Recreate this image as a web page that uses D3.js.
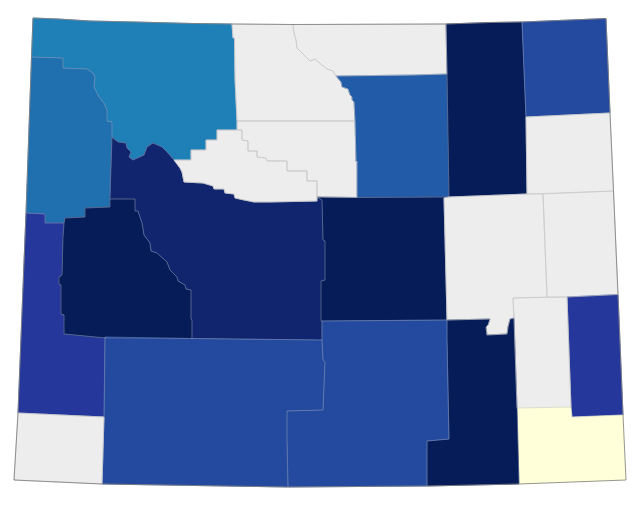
<!DOCTYPE html>
<html><head><meta charset="utf-8">
<script src="https://cdn.jsdelivr.net/npm/d3@7"></script>
<style>html,body{margin:0;padding:0;background:#fff}svg{display:block}</style>
</head><body><svg id="map" width="640" height="505"></svg>
<script>
// Estimated value band of every county (0 lowest, -1 = no data)
const counties = ["Park","Teton","Lincoln","Sublette","Fremont","Hot Springs","Washakie","Big Horn","Sheridan","Johnson","Campbell","Crook","Weston","Natrona","Converse","Niobrara","Goshen","Platte","Laramie","Albany","Carbon","Sweetwater","Uinta"];
const bands =    [3,4,6.5,8,7,-1,-1,-1,-1,5,8,6,-1,8,-1,-1,6.5,-1,0,8,5.5,5.5,-1];
const bandLevels = [-1,0,3,4,5,5.5,6,6.5,7,8];
const bandColors = ["#ededed","#ffffd9","#1f80b8","#2070b0","#225ca8","#234a9f","#234a9f","#25379a","#11256f","#051c59"];

// Shared boundaries (map units)
const parkFremont = [[174,160],[168,153],[162,147],[153,143],[147,147],[144,155],[133,160],[129,157],[131,152],[127,148],[126,143],[118,142],[113,138],[112,137]];
const parkTeton = [[112,137],[112,122],[107,121],[107,110],[104,103],[99,97],[94,87],[95,77],[93,73],[87,69],[63,68],[63,58],[31.5,57]];
const parkStairs = [[174,160],[191,160],[191,150],[206,150],[206,140],[217,140],[217,130],[237,130]];
const parkEast = [[232,24],[233,38],[234.5,38],[235,79],[237,121],[237,130]];
const north = [[33,18],[58,19],[90,21],[135,22],[193,23.5],[232,24]];
const tetonSouth = [[110,199],[110,207],[85,208],[85,217],[65,218],[64,223],[45,223],[45,214],[26,213]];
const lincolnSublette = [[64,223],[63,237],[62,275],[59,277],[59,284],[61,285],[61,314],[64,315],[64,334],[106,338]];
const subletteFremont = [[110,199],[135,199],[135,211],[138,211],[142,223],[144,235],[150,243],[151,251],[157,253],[167,262],[170,270],[177,277],[178,281],[185,285],[186,289],[191,290],[191,319],[192,320],[192,338.5]];
const fremontHot = [[174,160],[180,168],[182,172],[184,182],[203,183],[213,186],[214,189],[224,189],[225,193],[234,194],[235,198],[244,200],[254,202],[269,202],[317,201]];
const hotWashakie = [[237,130],[242,130],[242,140],[248,141],[248,151],[257,151],[257,157],[266,158],[267,161],[287,161],[287,171],[307,171],[307,181],[317,181],[317,201]];
const fremontNatrona = [[317,201],[317,197],[322,200],[323,240],[325,241],[325,280],[321,281],[321,321],[322,321],[322,340]];
const river = [[293,24.5],[294,33],[296,40],[297,48],[304,55],[310,61],[315,59],[322,65],[327,69],[333,71],[336,76],[341,82],[342,87],[348,89],[350,95],[352,97],[352,100],[354,102],[355,121]];
const washakieEast = [[355,121],[356,162],[357,161],[357,197.5]];
const platteHole = [[447,320],[490,319],[488,325],[486,327],[487,335],[507,334],[508,327],[510,319],[514,318]];
const carbonWest = [[322,340],[323,360],[325,362],[323,410],[287,411],[287,440],[288,487]];
const stateOutline = [...north,[293,24.5],[446,24],[490,22.5],[522,22],[606,18.5],[610,113],[613.5,191],[618,294.5],[623,415],[626,480],[519,484],[427,486],[288,487],[102,484],[14,480],[18,413],[26,213],[31.5,57]];

const rev = a => a.slice().reverse();
const rings = {
  "Park": [...north,...parkEast,...rev(parkStairs),...parkFremont,...parkTeton],
  "Teton": [[31.5,57],...rev(parkTeton),...[[110,190]],...tetonSouth],
  "Lincoln": [[26,213],[45,214],[45,223],...lincolnSublette,[105,337],[104,417],[18,413]],
  "Sublette": [...lincolnSublette,[192,338.5],...rev(subletteFremont).slice(1),[110,207],[85,208],[85,217],[65,218]],
  "Fremont": [[112,137],...rev(parkFremont).slice(1),...fremontHot,...fremontNatrona,[192,338.5],...rev(subletteFremont)],
  "Hot Springs": [...parkStairs,...hotWashakie,...rev(fremontHot)],
  "Washakie": [[237,121],[355,121],...washakieEast,[317,197],[317,181],[307,181],[307,171],[287,171],[287,161],[267,161],[266,158],[257,157],[257,151],[248,151],[248,141],[242,140],[242,130],[237,130]],
  "Big Horn": [[232,24],...river,[237,121],[235,79],[234.5,38],[233,38]],
  "Sheridan": [[293,24.5],[446,24],[447,74],[413,75],[336,76],[333,71],[327,69],[322,65],[315,59],[310,61],[304,55],[297,48],[296,40],[294,33]],
  "Johnson": [[336,76],[413,75],[447,74],[449,197],[357,197.5],[357,161],[356,162],[355,121],[354,102],[352,100],[352,97],[350,95],[348,89],[342,87],[341,82]],
  "Campbell": [[446,24],[490,22.5],[522,22],[526,117],[527,194],[449,197],[447,74]],
  "Crook": [[522,22],[606,18.5],[610,113],[526,117]],
  "Weston": [[526,117],[610,113],[613.5,191],[527,194]],
  "Natrona": [[317,197],[357,197.5],[449,197],[444,198],[447,320],[322,321],[321,321],[321,281],[325,280],[325,241],[323,240],[322,200]],
  "Converse": [[444,198],[449,197],[527,194],[543,194],[547,297],[513,298],[514,318],[510,319],[508,327],[507,334],[487,335],[486,327],[488,325],[490,319],[447,320]],
  "Niobrara": [[543,194],[613.5,191],[618,294.5],[567,297],[547,297]],
  "Goshen": [[567,297],[618,294.5],[623,415],[572,417],[571,407]],
  "Platte": [[513,298],[567,297],[571,407],[517,408],[514,318]],
  "Laramie": [[517,408],[571,407],[572,417],[623,415],[626,480],[519,484]],
  "Albany": [...platteHole,[517,408],[519,484],[427,486],[427,441],[449,439],[447,340]],
  "Carbon": [[322,321],[447,320],[447,340],[449,439],[427,441],[427,486],[288,487],[287,440],[287,411],[323,410],[325,362],[323,360],[322,340]],
  "Sweetwater": [[105,337],[192,338.5],[322,340],...carbonWest.slice(1),[102,484],[104,417]],
  "Uinta": [[18,413],[104,417],[102,484],[14,480]]
};

const color = d3.scaleOrdinal().domain(bandLevels).range(bandColors);
const features = counties.map((name,i) => {
  const r = rings[name];
  return {type:"Feature",properties:{name,band:bands[i]},geometry:{type:"Polygon",coordinates:[[...r,r[0]]]}};
});
const path = d3.geoPath(d3.geoIdentity());
const svg = d3.select("#map");
// Fill pass with same-colour seams, then thin pale county lines, then the darker state edge
svg.append("g").selectAll("path").data(features).join("path")
  .attr("d",path)
  .attr("fill",d=>color(d.properties.band))
  .attr("stroke",d=>color(d.properties.band))
  .attr("stroke-width",0.6)
  .append("title").text(d=>d.properties.name);
svg.append("g").selectAll("path").data(features.filter(d=>d.properties.band!==-1 && d.properties.band!==0)).join("path")
  .attr("d",path)
  .attr("fill","none")
  .attr("stroke","#9aa5bb")
  .attr("stroke-opacity",0.55)
  .attr("stroke-width",0.5);
svg.append("g").selectAll("path").data(features.filter(d=>d.properties.band===-1)).join("path")
  .attr("d",path)
  .attr("fill","none")
  .attr("stroke","#c4c4c4")
  .attr("stroke-width",0.6);
svg.append("path")
  .datum({type:"Polygon",coordinates:[[...stateOutline,stateOutline[0]]]})
  .attr("d",path)
  .attr("fill","none")
  .attr("stroke","#7b7b7b")
  .attr("stroke-width",0.8);
</script></body></html>
